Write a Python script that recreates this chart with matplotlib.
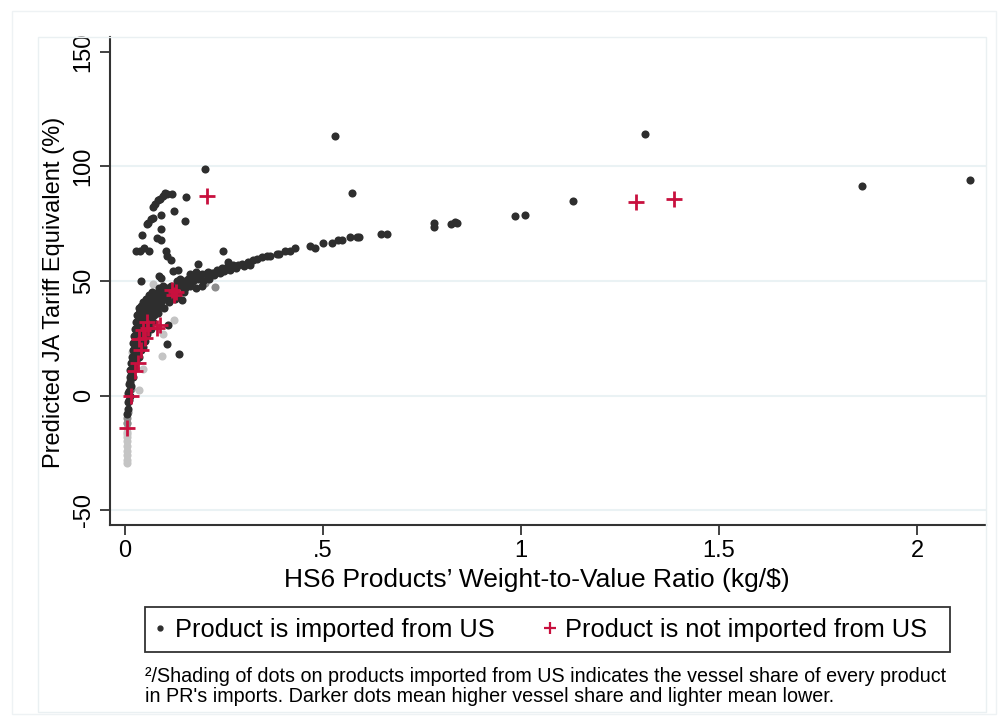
import matplotlib
matplotlib.use('Agg')
import matplotlib.pyplot as plt
from matplotlib.lines import Line2D
from matplotlib.patches import Rectangle

plt.rcParams['font.family'] = ['Liberation Sans', 'DejaVu Sans']

# products imported from US, dark dots (high vessel share)
dark_x = [0.530, 1.313, 0.202, 0.573, 1.861, 2.134, 1.131,
          0.985, 1.010, 0.780, 0.780, 0.823, 0.833, 0.838, 0.646, 0.662,
          0.568, 0.586, 0.591, 0.548, 0.538, 0.523, 0.500, 0.480, 0.467,
          0.429, 0.417, 0.404, 0.389, 0.384, 0.366, 0.359, 0.346, 0.333,
          0.323, 0.311, 0.295, 0.285, 0.273, 0.260, 0.258, 0.247, 0.245,
          0.232, 0.220, 0.207, 0.189, 0.184, 0.177, 0.164, 0.157, 0.144,
          0.144, 0.210, 0.225, 0.240, 0.250, 0.265, 0.280, 0.300, 0.315,
          # upper branch
          0.101, 0.106, 0.119, 0.154, 0.096, 0.088, 0.083, 0.076, 0.071,
          0.124, 0.091, 0.071, 0.066, 0.058, 0.056, 0.152, 0.091, 0.043,
          0.081, 0.091, 0.028, 0.038, 0.048, 0.061, 0.104, 0.106, 0.116,
          0.121, 0.134, 0.040, 0.086, 0.091,
          # stray points below the band
          0.106, 0.136, 0.109, 0.038,
          # main band
          0.006, 0.007, 0.007, 0.009, 0.008, 0.011, 0.013,
          0.010, 0.013, 0.016, 0.012, 0.015, 0.019,
          0.013, 0.017, 0.021, 0.025, 0.016, 0.019, 0.023, 0.028,
          0.018, 0.022, 0.026, 0.031, 0.036,
          0.019, 0.024, 0.028, 0.033, 0.040, 0.046,
          0.021, 0.026, 0.031, 0.036, 0.042, 0.050,
          0.023, 0.028, 0.034, 0.040, 0.047, 0.055,
          0.025, 0.030, 0.036, 0.043, 0.050, 0.058, 0.066,
          0.027, 0.033, 0.039, 0.046, 0.053, 0.061, 0.070,
          0.030, 0.036, 0.043, 0.050, 0.057, 0.065, 0.074, 0.083,
          0.035, 0.041, 0.048, 0.055, 0.062, 0.070, 0.079, 0.088, 0.098,
          0.045, 0.052, 0.058, 0.065, 0.073, 0.082, 0.091, 0.100, 0.110, 0.125,
          0.060, 0.068, 0.076, 0.084, 0.092, 0.100, 0.110, 0.120, 0.132, 0.148,
          0.085, 0.095, 0.105, 0.116, 0.128, 0.140, 0.152, 0.165, 0.180, 0.195,
          0.130, 0.140, 0.150, 0.160, 0.172, 0.185, 0.198, 0.212,
          0.165, 0.180, 0.195, 0.210, 0.225, 0.238]
dark_y = [113.5, 114.0, 98.7, 88.6, 91.3, 93.9, 84.8,
          78.2, 79.0, 75.5, 73.4, 74.7, 75.6, 75.4, 70.7, 70.7,
          69.0, 69.4, 69.2, 67.7, 67.7, 66.4, 66.4, 64.6, 65.5,
          64.2, 63.3, 62.9, 62.0, 61.6, 61.1, 60.7, 60.3, 59.8,
          59.0, 58.5, 57.6, 57.2, 56.8, 58.1, 55.9, 63.3, 55.5,
          55.0, 53.7, 53.3, 52.4, 57.6, 51.1, 50.2, 48.9, 48.0,
          41.5, 51.5, 52.5, 53.5, 54.5, 55.0, 55.5, 56.5, 57.0,
          88.6, 88.2, 87.8, 86.5, 87.3, 86.0, 85.2, 83.8, 82.1,
          80.4, 78.6, 77.7, 76.9, 75.5, 74.7, 76.4, 72.5, 69.9,
          68.6, 68.1, 62.9, 63.3, 64.2, 62.9, 62.9, 60.7, 59.0,
          54.2, 54.6, 50.2, 52.0, 51.5,
          22.7, 18.3, 31.0, 36.5,
          -8, -6, -3, -2, 1, 2, 0,
          5, 6, 4, 8, 9, 8,
          11, 12, 11, 12, 14, 15, 14, 15,
          17, 18, 17, 18, 17,
          20, 21, 20, 21, 20, 21,
          23, 24, 23, 24, 23, 24,
          26, 27, 26, 27, 26, 27,
          29, 30, 29, 30, 29, 30, 29,
          32, 33, 32, 33, 32, 33, 32,
          35, 36, 35, 36, 35, 36, 35, 36,
          38, 39, 38, 39, 38, 39, 38, 39, 38,
          41, 42, 41, 42, 41, 42, 41, 42, 41, 42,
          44, 45, 44, 45, 44, 45, 44, 45, 44, 45,
          47, 48, 47, 48, 47, 48, 47, 48, 47, 48,
          50, 51, 50, 51, 50, 51, 50, 51,
          53, 54, 53, 54, 53.5, 54.5]

# imported from US, medium shading
mid_x = [0.227, 0.202, 0.006, 0.006, 0.007, 0.020, 0.030, 0.045, 0.060, 0.014]
mid_y = [47.6, 49.3, -10, -12, -7, 16, 22, 28, 34, 3]

# imported from US, light shading (low vessel share)
light_x = [0.071, 0.124, 0.096, 0.093, 0.045, 0.035, 0.005, 0.005, 0.004,
           0.005, 0.004, 0.005, 0.004, 0.005, 0.005, 0.004, 0.005, 0.018, 0.012]
light_y = [48.5, 32.8, 27.0, 17.2, 11.4, 2.6, -14, -16, -18, -20, -22, -24,
           -26, -28, -29.5, -12, -17, 19, 7]

# products not imported from US
red_x = [0.207, 0.119, 0.129, 0.124, 0.056, 0.045, 0.058, 0.088, 0.081,
         0.035, 0.051, 0.040, 0.033, 0.025, 0.015, 0.005, 1.290, 1.386]
red_y = [86.9, 45.9, 45.0, 43.7, 31.9, 28.4, 29.7, 30.6, 29.3,
         24.9, 25.3, 20.1, 14.0, 10.5, 0.0, -14.0, 84.3, 86.0]

fig = plt.figure(figsize=(10, 7.25), dpi=100)
ax = fig.add_axes([0.110, 0.2759, 0.876, 0.673])

# faint Stata-like frames
fig.add_artist(Rectangle((0.012, 0.015), 0.984, 0.97, transform=fig.transFigure,
                         fill=False, ec='#eef2f4', lw=1))
fig.add_artist(Rectangle((0.038, 0.018), 0.948, 0.931, transform=fig.transFigure,
                         fill=False, ec='#eaf0f2', lw=1))

ax.scatter(light_x, light_y, s=34, color='#c4c4c4', lw=0, zorder=2)
ax.scatter(mid_x, mid_y, s=34, color='#8c8c8c', lw=0, zorder=2)
ax.scatter(dark_x, dark_y, s=34, color='#2e2e2e', lw=0, zorder=3)
ax.scatter(red_x, red_y, s=120, marker='+', color='#c8103e', lw=2.0, zorder=4)

ax.set_xlim(-0.038, 2.174)
ax.set_ylim(-56.5, 156.5)
ax.set_xticks([0, 0.5, 1, 1.5, 2])
ax.set_xticklabels(['0', '.5', '1', '1.5', '2'])
ax.set_yticks([-50, 0, 50, 100, 150])
ax.set_yticklabels(['-50', '0', '50', '100', '150'], rotation=90, va='center')
ax.tick_params(labelsize=17, length=7, width=1.3, color='#333333', pad=4)

for y in [-50, 0, 50, 100]:
    ax.axhline(y, color='#eaf2f4', lw=1.5, zorder=1)

ax.spines['top'].set_visible(False)
ax.spines['right'].set_visible(False)
for s in ['left', 'bottom']:
    ax.spines[s].set_color('#333333')
    ax.spines[s].set_linewidth(1.5)

ax.set_ylabel('Predicted JA Tariff Equivalent (%)', fontsize=17)
ax.yaxis.set_label_coords(-0.051, 0.477)
fig.text(0.537, 1 - 580 / 725, "HS6 Products\u2019 Weight-to-Value Ratio (kg/$)",
         fontsize=19, ha='center', va='center')

# legend: frame drawn as a separate box like Stata's
fig.add_artist(Rectangle((0.145, 1 - 652 / 725), 0.805, 45 / 725, transform=fig.transFigure,
                         fill=False, ec='#333333', lw=1.3))
handles = [Line2D([], [], ls='none', marker='o', ms=3.5, color='#2e2e2e'),
           Line2D([], [], ls='none', marker='+', ms=8, mew=1.6, color='#c8103e')]
leg = fig.legend(handles, ['Product is imported from US', 'Product is not imported from US'],
                 loc='center left', bbox_to_anchor=(0.154, 1 - 629.5 / 725),
                 ncol=2, fontsize=18.3, frameon=False,
                 handlelength=0.5, handletextpad=0.34, columnspacing=1.93,
                 borderpad=0, borderaxespad=0)

fig.text(0.145, 1 - 677 / 725,
         "\u00b2/Shading of dots on products imported from US indicates the vessel share of every product",
         fontsize=14.2, ha='left', va='center')
fig.text(0.145, 1 - 697 / 725,
         "in PR's imports. Darker dots mean higher vessel share and lighter mean lower.",
         fontsize=14.2, ha='left', va='center')

fig.savefig('out.png', dpi=100)
